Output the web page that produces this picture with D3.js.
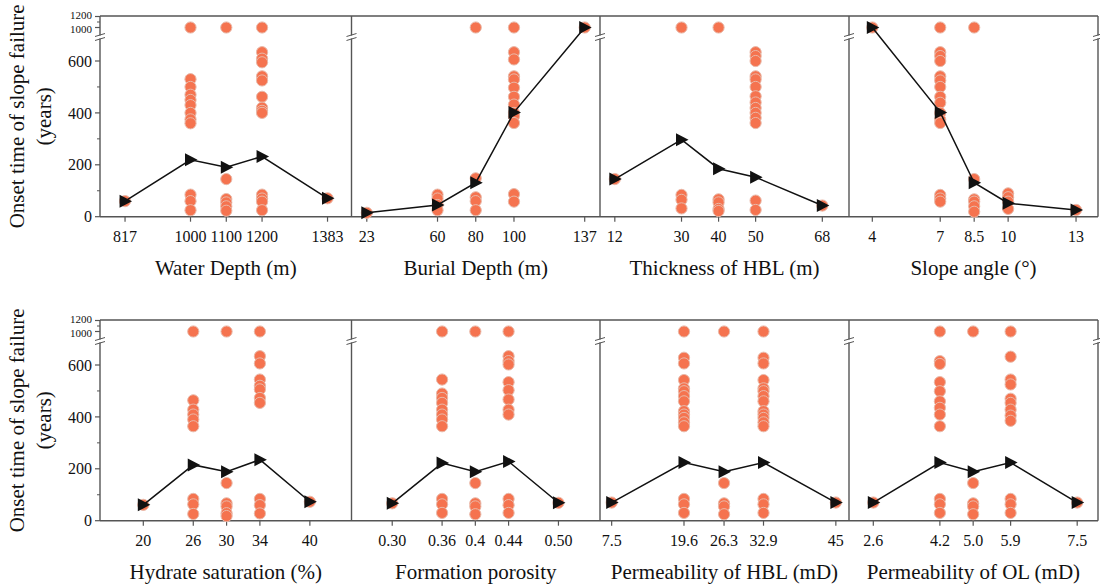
<!DOCTYPE html>
<html>
<head>
<meta charset="utf-8">
<script src="https://cdn.jsdelivr.net/npm/d3@7"></script>
<style>
  body { margin: 0; background: #fff; }
</style>
</head>
<body>
<div id="chart"></div>
<script>
// values; 1000 = "no failure" points above the axis break
var waterDepthX = [817, 1000, 1100, 1200, 1383]
  , waterDepthMean = [60, 219, 191, 232, 71]
  , waterDepthPts = [[60], [1000, 530, 500, 470, 450, 430, 400, 375, 360, 85, 60, 25], [1000, 145, 68, 55, 40, 23], [1000, 634, 609, 595, 541, 525, 462, 420, 408, 400, 85, 70, 58, 25], [71]]

var burialX = [23, 60, 80, 100, 137]
  , burialMean = [15, 45, 131, 402, 1000]
  , burialPts = [[15], [85, 70, 45, 25], [1000, 148, 75, 60, 25], [1000, 634, 606, 541, 529, 497, 462, 432, 400, 387, 361, 87, 58], [1000]]

var thicknessX = [12, 30, 40, 50, 68]
  , thicknessMean = [145, 297, 185, 152, 43]
  , thicknessPts = [[145], [1000, 84, 65, 32], [1000, 67, 55, 30, 22], [634, 619, 600, 541, 529, 500, 464, 440, 419, 400, 381, 361, 62, 26], [43]]

var slopeX = [4, 7, 8.5, 10, 13]
  , slopeMean = [1000, 402, 131, 52, 26]
  , slopePts = [[1000], [1000, 634, 619, 600, 541, 525, 500, 462, 439, 400, 374, 361, 84, 70, 58], [1000, 145, 67, 58, 40, 19], [90, 75, 58, 30], [26]]

var hydrateX = [20, 26, 30, 34, 40]
  , hydrateMean = [61, 215, 189, 235, 73]
  , hydratePts = [[61], [1000, 464, 428, 409, 390, 364, 84, 63, 26], [1000, 145, 67, 55, 29, 18], [1000, 634, 606, 544, 520, 506, 473, 454, 84, 60, 28], [73]]

var porosityX = [0.30, 0.36, 0.4, 0.44, 0.50]
  , porosityLabels = ['0.30', '0.36', '0.4', '0.44', '0.50']
  , porosityMean = [67, 222, 189, 228, 69]
  , porosityPts = [[67], [1000, 544, 490, 473, 454, 428, 409, 390, 364, 84, 63, 30], [1000, 145, 67, 55, 25], [1000, 634, 615, 602, 534, 503, 467, 428, 409, 84, 60, 30], [69]]

var permHBLX = [7.5, 19.6, 26.3, 32.9, 45]
  , permHBLMean = [70, 224, 189, 224, 70]
  , permHBLPts = [[70], [1000, 628, 606, 542, 510, 499, 480, 460, 422, 409, 396, 379, 364, 84, 63, 30], [1000, 145, 67, 55, 25], [1000, 628, 606, 542, 510, 499, 480, 460, 422, 409, 396, 379, 364, 84, 63, 30], [70]]

var permOLX = [2.6, 4.2, 5.0, 5.9, 7.5]
  , permOLLabels = ['2.6', '4.2', '5.0', '5.9', '7.5']
  , permOLMean = [70, 224, 189, 224, 70]
  , permOLPts = [[70], [1000, 615, 604, 534, 499, 460, 435, 409, 364, 84, 63, 30], [1000, 145, 67, 55, 25], [1000, 632, 544, 525, 470, 454, 428, 405, 385, 84, 63, 30], [70]]

var yTicksLow = [0, 200, 400, 600]
  , yMinorLow = [100, 300, 500]
  , yTicksHigh = [1000, 1200]

var panels = [
    {row: 0, col: 0, title: 'Water Depth (m)', x: waterDepthX, mean: waterDepthMean, pts: waterDepthPts, dom: [747, 1450]}
  , {row: 0, col: 1, title: 'Burial Depth (m)', x: burialX, mean: burialMean, pts: burialPts, dom: [15, 145]}
  , {row: 0, col: 2, title: 'Thickness of HBL (m)', x: thicknessX, mean: thicknessMean, pts: thicknessPts, dom: [8, 75.2]}
  , {row: 0, col: 3, title: 'Slope angle (°)', x: slopeX, mean: slopeMean, pts: slopePts, dom: [2.97, 13.97]}
  , {row: 1, col: 0, title: 'Hydrate saturation (%)', x: hydrateX, mean: hydrateMean, pts: hydratePts, dom: [14.8, 45]}
  , {row: 1, col: 1, title: 'Formation porosity', x: porosityX, labels: porosityLabels, mean: porosityMean, pts: porosityPts, dom: [0.251, 0.55]}
  , {row: 1, col: 2, title: 'Permeability of HBL (mD)', x: permHBLX, mean: permHBLMean, pts: permHBLPts, dom: [5.55, 47.2]}
  , {row: 1, col: 3, title: 'Permeability of OL (mD)', x: permOLX, labels: permOLLabels, mean: permOLMean, pts: permOLPts, dom: [2.016, 8.0]}
]

var W = 1100, Hgt = 588
  , rowTop = [16, 320]
  , ph = 200.7
  , colX = [100, 351.5, 600, 849, 1098]
  , frame = '#555'
  , serif = '"Liberation Serif", "DejaVu Serif", "Times New Roman", serif'

var svg = d3.select('#chart').append('svg')
    .attr('width', W)
    .attr('height', Hgt)
    .attr('font-family', serif)

function label(g) {
    return g.append('text').attr('font-family', serif).attr('fill', '#111')
}

function yScale(top) {
    var low = d3.scaleLinear().domain([0, 600]).range([top + ph, top + 45])
      , high = d3.scaleLinear().domain([1000, 1200]).range([top + 11.5, top + 0.5])
    var f = function (v) { return v >= 800 ? high(v) : low(v) }
    f.low = low
    f.high = high
    return f
}

// rows: frames, y axis, breaks, y title
rowTop.forEach(function (top) {
    var y = yScale(top)
    var g = svg.append('g')

    // y axis ticks on left
    var ax = g.append('g')
    yTicksLow.forEach(function (t) {
        ax.append('line').attr('x1', colX[0] - 5).attr('x2', colX[0])
            .attr('y1', y(t)).attr('y2', y(t)).attr('stroke', frame).attr('stroke-width', 1.2)
        label(ax).attr('x', colX[0] - 8).attr('y', y(t)).attr('dy', '0.35em')
            .attr('text-anchor', 'end').attr('font-size', '16px').text(t)
    })
    // squeezed labels above the break
    yTicksHigh.forEach(function (t) {
        ax.append('line').attr('x1', colX[0] - 5).attr('x2', colX[0])
            .attr('y1', y(t)).attr('y2', y(t)).attr('stroke', frame).attr('stroke-width', 1.2)
        label(ax).attr('x', colX[0] - 8).attr('y', y(t) + (t === 1200 ? -1.5 : 1.5)).attr('dy', '0.35em')
            .attr('text-anchor', 'end').attr('font-size', '11px').text(t)
    })
    yMinorLow.concat([1100]).forEach(function (t) {
        ax.append('line').attr('x1', colX[0] - 3).attr('x2', colX[0])
            .attr('y1', y(t)).attr('y2', y(t)).attr('stroke', frame).attr('stroke-width', 1)
    })

    // frame lines
    g.append('line').attr('x1', colX[0]).attr('x2', colX[4]).attr('y1', top).attr('y2', top)
        .attr('stroke', frame).attr('stroke-width', 1.4)
    g.append('line').attr('x1', colX[0]).attr('x2', colX[4]).attr('y1', top + ph).attr('y2', top + ph)
        .attr('stroke', frame).attr('stroke-width', 1.4)
    colX.forEach(function (cx) {
        g.append('line').attr('x1', cx).attr('x2', cx).attr('y1', top).attr('y2', top + ph)
            .attr('stroke', frame).attr('stroke-width', 1.4)
        // axis break marks
        var b = top + 21
        g.append('rect').attr('x', cx - 2).attr('y', b - 1.5).attr('width', 4).attr('height', 3).attr('fill', '#fff')
        g.append('line').attr('x1', cx - 5).attr('x2', cx + 5).attr('y1', b - 0.5).attr('y2', b - 3.5)
            .attr('stroke', frame).attr('stroke-width', 1)
        g.append('line').attr('x1', cx - 5).attr('x2', cx + 5).attr('y1', b + 3.5).attr('y2', b + 0.5)
            .attr('stroke', frame).attr('stroke-width', 1)
    })

    // y title
    var cy = top + ph / 2
    label(g).attr('transform', 'translate(24,' + cy + ') rotate(-90)')
        .attr('text-anchor', 'middle').attr('font-size', '21px').text('Onset time of slope failure')
    label(g).attr('transform', 'translate(51,' + cy + ') rotate(-90)')
        .attr('text-anchor', 'middle').attr('font-size', '21px').text('(years)')
})

var tri = 'M-5.5,-6.5L7,0L-5.5,6.5Z'

panels.forEach(function (p) {
    var top = rowTop[p.row]
      , y = yScale(top)
      , x = d3.scaleLinear().domain(p.dom).range([colX[p.col], colX[p.col + 1]])
      , g = svg.append('g')

    // x ticks and labels
    p.x.forEach(function (v, i) {
        g.append('line').attr('x1', x(v)).attr('x2', x(v)).attr('y1', top + ph).attr('y2', top + ph + 5)
            .attr('stroke', frame).attr('stroke-width', 1.2)
        label(g).attr('x', x(v)).attr('y', top + ph + 25)
            .attr('text-anchor', 'middle').attr('font-size', '16px')
            .text(p.labels ? p.labels[i] : v)
    })
    label(g).attr('x', (colX[p.col] + colX[p.col + 1]) / 2).attr('y', top + ph + 58)
        .attr('text-anchor', 'middle').attr('font-size', '21px').text(p.title)

    // scatter
    var flat = []
    p.pts.forEach(function (arr, i) {
        arr.forEach(function (v) { flat.push({x: p.x[i], y: v}) })
    })
    g.append('g').selectAll('circle').data(flat).enter().append('circle')
        .attr('cx', function (d) { return x(d.x) })
        .attr('cy', function (d) { return y(d.y) })
        .attr('r', 5.6)
        .attr('fill', '#F5734F')
        .attr('stroke', '#E9B9A9')
        .attr('stroke-width', 1)

    // mean line with triangle markers
    var pts = p.x.map(function (v, i) { return [x(v), y(p.mean[i])] })
    g.append('path').attr('d', d3.line()(pts)).attr('fill', 'none')
        .attr('stroke', '#111').attr('stroke-width', 1.5)
    g.append('g').selectAll('path').data(pts).enter().append('path')
        .attr('d', tri)
        .attr('transform', function (d) { return 'translate(' + d[0] + ',' + d[1] + ')' })
        .attr('fill', '#111')
})
</script>
</body>
</html>
